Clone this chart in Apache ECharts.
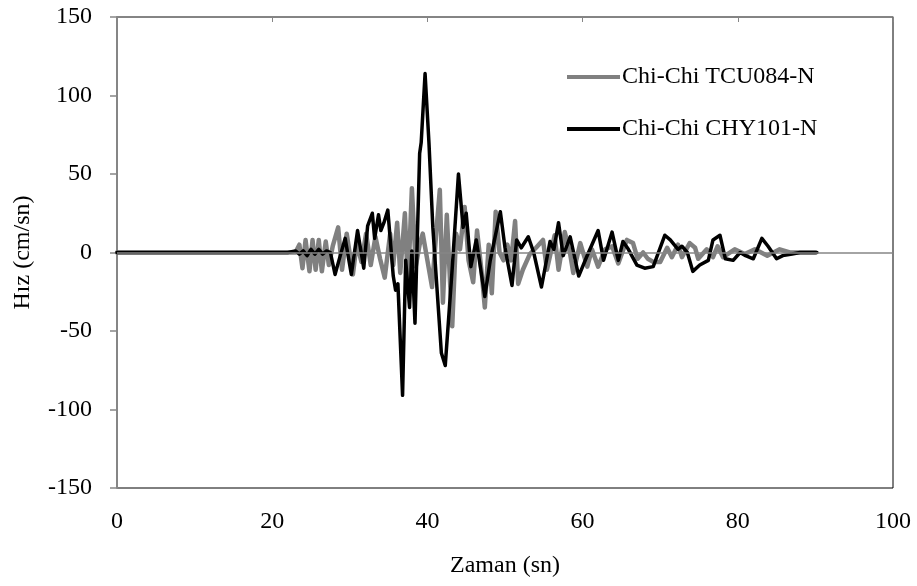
<!DOCTYPE html>
<html><head><meta charset="utf-8">
<script src="https://cdn.jsdelivr.net/npm/echarts@6/dist/echarts.min.js"></script>
<style>html,body{margin:0;padding:0;background:#fff}#c{width:917px;height:586px}</style>
</head><body><div id="c"></div>
<script>
const seriesNames = ['Chi-Chi TCU084-N', 'Chi-Chi CHY101-N'];
const xTicks = [0, 20, 40, 60, 80, 100];
const yTicks = [-150, -100, -50, 0, 50, 100, 150];

const grayT = [0, 23.0, 23.5, 23.9, 24.3, 24.8, 25.2, 25.6, 26.0, 26.4, 26.9, 27.3, 27.8, 28.5, 29.0, 29.6, 30.4, 30.9, 31.5, 32.1, 32.7, 33.3, 33.9, 34.5, 35.2, 35.6, 36.1, 36.5, 37.1, 37.5, 38.0, 38.5, 39.0, 39.4, 40.0, 40.6, 41.1, 41.6, 42.0, 42.5, 43.2, 43.7, 44.2, 44.8, 45.3, 45.9, 46.4, 47.0, 47.4, 47.9, 48.3, 48.8, 49.3, 49.8, 50.3, 50.8, 51.3, 51.7, 52.3, 53.2, 54.0, 54.9, 55.4, 56.4, 56.9, 57.7, 58.4, 58.8, 59.7, 60.6, 61.2, 62.0, 62.9, 63.8, 64.6, 65.7, 66.5, 67.1, 67.8, 68.4, 69.1, 70.0, 70.9, 71.5, 72.3, 72.8, 73.8, 74.5, 74.9, 76.0, 76.8, 77.4, 78.1, 79.6, 80.9, 82.2, 83.8, 85.4, 86.7, 90];
const grayV = [0, 0, 5, -10, 8, -12, 8, -11, 8, -12, 7, -8, 4, 16, -11, 12, -14, 6, -6, 12, -8, 10, -4, -16, 12, -8, 19, -13, 25, -22, 41, -9, 5, 12, -5, -22, 10, 40, -32, 24, -47, 12, 2, 29, -5, -19, 14, -13, -35, 5, -26, 26, 0, -5, 5, -5, 20, -20, -11, -1, 3, 8, -11, 11, -11, 13, -1, -13, 6, -9, 2, -9, 2, 4, -7, 8, 6, -4, 0, -4, -6, -6, 3, -3, 5, -3, 6, 3, -4, 2, -3, 4, -3, 2, -1, 2, -2, 2, 0, 0];

const blackT = [0, 22.0, 23.0, 23.5, 24.0, 24.5, 25.0, 25.5, 26.0, 26.5, 27.0, 27.5, 28.1, 28.6, 29.4, 30.2, 31.0, 31.8, 32.3, 32.9, 33.2, 33.7, 34.0, 34.4, 34.9, 35.6, 35.9, 36.2, 36.8, 37.2, 37.7, 38.0, 38.4, 39.0, 39.2, 39.7, 40.2, 40.7, 41.8, 42.3, 43.2, 44.0, 44.6, 45.0, 45.6, 46.3, 47.4, 48.1, 49.4, 50.0, 50.9, 51.5, 52.1, 53.0, 53.7, 54.7, 55.8, 56.3, 56.9, 57.5, 58.4, 59.5, 60.5, 62.0, 62.7, 63.8, 64.6, 65.2, 65.9, 67.0, 68.0, 69.1, 70.6, 71.3, 72.3, 72.8, 73.5, 74.2, 75.1, 76.2, 76.8, 77.7, 78.4, 79.4, 80.3, 81.0, 82.0, 83.1, 83.9, 85.0, 85.8, 87.0, 88.0, 89.0, 90.2];
const blackV = [0, 0, 1, -1, 1, -2, 2, -1, 2, -1, 1, 0, -14, -5, 9, -14, 14, -10, 17, 25, 9, 24, 14, 19, 27, -15, -24, -20, -91, -5, -35, 1, -45, 63, 70, 114, 70, 16, -64, -72, -10, 50, 16, 25, -9, 8, -28, -5, 26, 3, -21, 8, 3, 10, 0, -22, 7, 2, 19, -2, 10, -15, -3, 14, -5, 13, -5, 7, 2, -8, -10, -9, 11, 8, 2, 4, 0, -12, -8, -5, 8, 11, -4, -5, 0, -2, -4, 9, 4, -4, -2, -1, 0, 0, 0];

const zip = (a, b) => a.map((t, i) => [t, b[i]]);
const FONT = 'Liberation Serif';

const chart = echarts.init(document.getElementById('c'), null, {renderer: 'canvas'});
chart.setOption({
  animation: false,
  backgroundColor: '#fff',
  grid: {left: 117, right: 24, top: 17, bottom: 98, show: true, borderColor: '#000', borderWidth: 1},
  legend: {
    orient: 'vertical', left: 562, top: 60, itemGap: 28,
    itemWidth: 53, itemHeight: 4, icon: 'rect',
    textStyle: {fontFamily: FONT, fontSize: 24, color: '#000', padding: [0,0,0,-3]},
    data: seriesNames
  },
  xAxis: [{
    type: 'value', min: xTicks[0], max: xTicks[xTicks.length-1], interval: 20,
    position: 'bottom',
    name: 'Zaman (sn)', nameLocation: 'middle', nameGap: 66,
    nameTextStyle: {fontFamily: FONT, fontSize: 24, color: '#000'},
    axisLine: {show: false}, axisTick: {show: false}, splitLine: {show: false},
    axisLabel: {fontFamily: FONT, fontSize: 24, color: '#000', margin: 22}
  }, {
    type: 'value', min: xTicks[0], max: xTicks[xTicks.length-1], interval: 20,
    position: 'top',
    axisLine: {show: true, onZero: true, lineStyle: {color: '#868686', width: 1.5}},
    axisTick: {show: true, inside: true, length: 5, lineStyle: {color: '#868686'}},
    axisLabel: {show: false}, splitLine: {show: false}
  }],
  yAxis: {
    type: 'value', min: yTicks[0], max: yTicks[yTicks.length-1], interval: 50,
    name: 'H\u0131z (cm/sn)', nameLocation: 'middle', nameGap: 82, nameRotate: 90,
    nameTextStyle: {fontFamily: FONT, fontSize: 24, color: '#000'},
    axisLine: {show: true, onZero: false, lineStyle: {color: '#868686', width: 2}},
    axisTick: {show: true, length: 7, lineStyle: {color: '#868686', width: 1.5}},
    splitLine: {show: false},
    axisLabel: {fontFamily: FONT, fontSize: 24, color: '#000', margin: 25}
  },
  series: [{
    name: seriesNames[0], type: 'line', xAxisIndex: 0, symbol: 'none',
    data: zip(grayT, grayV),
    lineStyle: {color: '#808080', width: 4.5, join: 'round', cap: 'round'}, itemStyle: {color: '#808080'}, z: 2,
    markLine: {silent: true, symbol: 'none', label: {show: false},
      lineStyle: {color: '#868686', width: 1.5, type: 'solid'}, data: [{yAxis: 0}]}
  }, {
    name: seriesNames[1], type: 'line', xAxisIndex: 0, symbol: 'none',
    data: zip(blackT, blackV),
    lineStyle: {color: '#000', width: 3.5, join: 'round', cap: 'round'}, itemStyle: {color: '#000'}, z: 3
  }]
});
</script></body></html>
